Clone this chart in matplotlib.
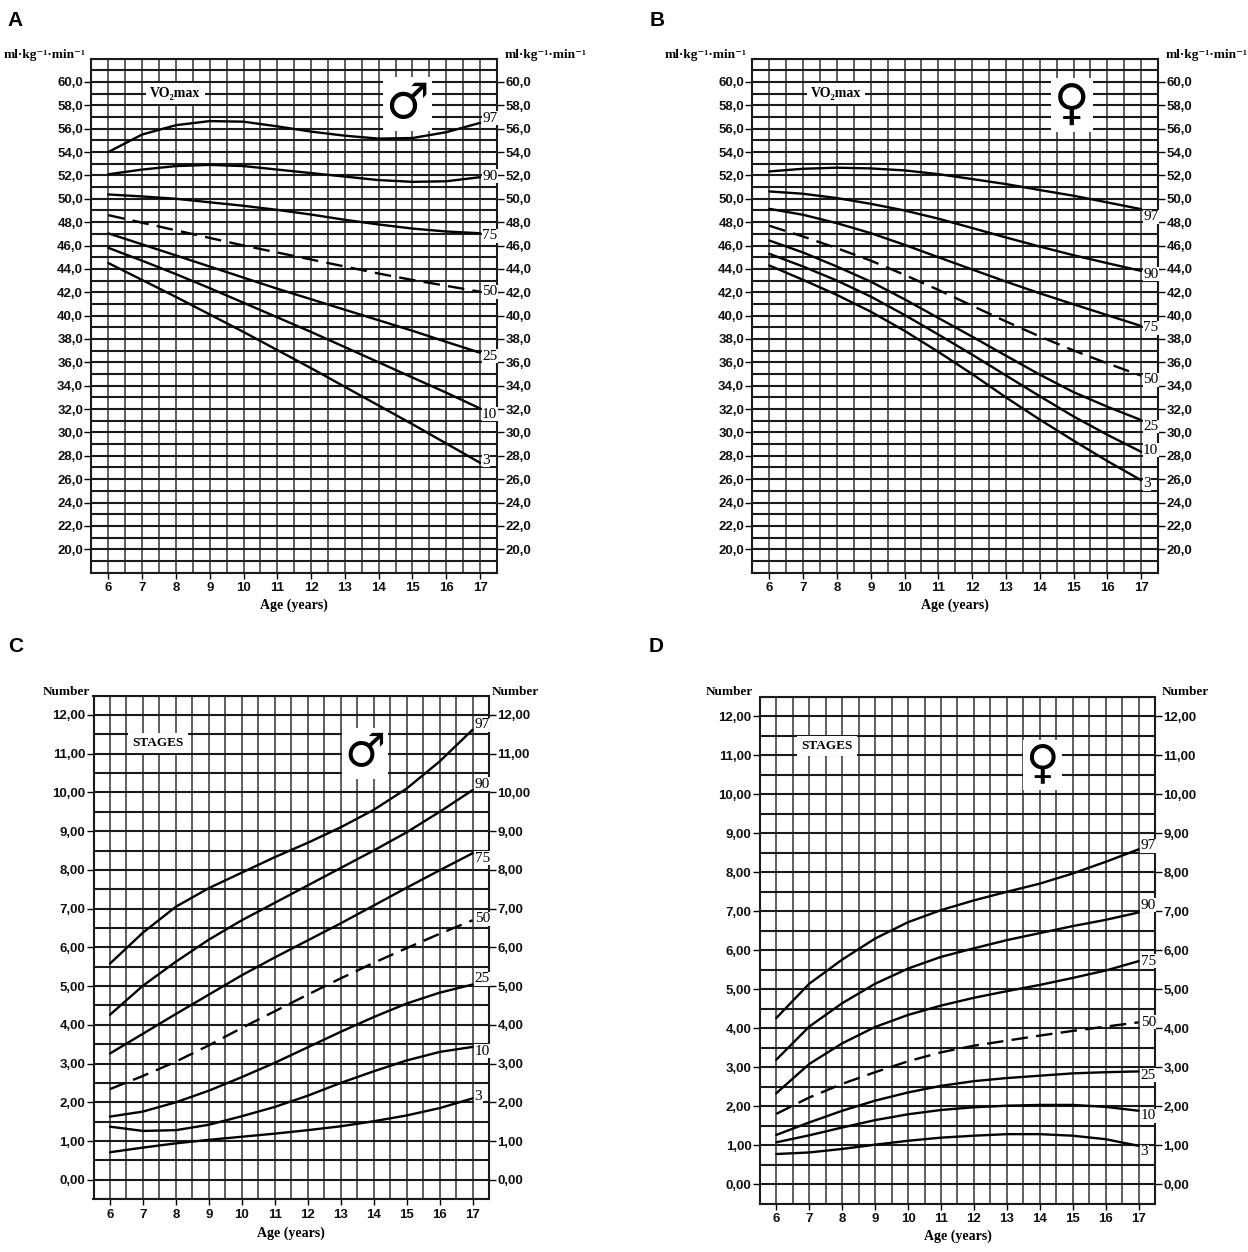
import matplotlib
matplotlib.use("Agg")
import matplotlib.pyplot as plt
import numpy as np
from matplotlib.ticker import FuncFormatter

# ---------------- data ----------------
ages = [6, 7, 8, 9, 10, 11, 12, 13, 14, 15, 16, 17]
percentiles = ["97", "90", "75", "50", "25", "10", "3"]

# A: VO2max boys (ml/kg/min)
a_p97 = [54.0, 55.5, 56.3, 56.65, 56.6, 56.2, 55.75, 55.4, 55.15, 55.2, 55.7, 56.5]
a_p90 = [52.1, 52.5, 52.8, 52.9, 52.8, 52.5, 52.2, 51.9, 51.6, 51.45, 51.5, 51.85]
a_p75 = [50.37, 50.2, 50.0, 49.7, 49.4, 49.05, 48.65, 48.2, 47.8, 47.45, 47.2, 47.05]
a_p50 = [48.6, 47.95, 47.3, 46.65, 46.0, 45.4, 44.8, 44.2, 43.6, 43.05, 42.55, 42.04]
a_p25 = [47.04, 46.1, 45.15, 44.2, 43.25, 42.3, 41.4, 40.5, 39.6, 38.7, 37.75, 36.82]
a_p10 = [45.8, 44.7, 43.55, 42.35, 41.1, 39.85, 38.6, 37.3, 36.0, 34.7, 33.4, 32.05]
a_p3 = [44.5, 43.05, 41.6, 40.1, 38.6, 37.05, 35.5, 33.9, 32.3, 30.7, 29.05, 27.4]

# B: VO2max girls
b_p97 = [52.34, 52.57, 52.66, 52.6, 52.43, 52.11, 51.69, 51.26, 50.75, 50.26, 49.69, 49.11]
b_p90 = [50.63, 50.43, 50.06, 49.57, 49.0, 48.3, 47.5, 46.69, 45.91, 45.17, 44.49, 43.83]
b_p75 = [49.14, 48.63, 47.91, 47.06, 46.06, 45.0, 43.95, 42.91, 41.91, 40.97, 40.04, 39.11]
b_p50 = [47.69, 46.77, 45.77, 44.71, 43.49, 42.2, 40.85, 39.5, 38.22, 37.02, 35.91, 34.86]
b_p25 = [46.43, 45.4, 44.2, 42.91, 41.4, 39.8, 38.2, 36.57, 34.95, 33.45, 32.2, 31.06]
b_p10 = [45.29, 44.2, 43.0, 41.63, 40.06, 38.38, 36.66, 34.88, 33.1, 31.37, 29.8, 28.34]
b_p3 = [44.29, 43.06, 41.77, 40.34, 38.7, 36.9, 35.0, 33.0, 31.1, 29.3, 27.55, 25.91]

# C: stages boys
c_p97 = [5.58, 6.38, 7.05, 7.53, 7.93, 8.33, 8.7, 9.1, 9.55, 10.1, 10.8, 11.62]
c_p90 = [4.26, 5.01, 5.63, 6.2, 6.7, 7.15, 7.6, 8.05, 8.5, 8.97, 9.5, 10.06]
c_p75 = [3.26, 3.77, 4.28, 4.78, 5.28, 5.74, 6.18, 6.62, 7.08, 7.54, 7.99, 8.43]
c_p50 = [2.34, 2.68, 3.05, 3.47, 3.92, 4.35, 4.78, 5.2, 5.6, 5.98, 6.35, 6.7]
c_p25 = [1.63, 1.76, 2.0, 2.3, 2.65, 3.02, 3.42, 3.82, 4.2, 4.55, 4.83, 5.04]
c_p10 = [1.37, 1.26, 1.28, 1.42, 1.64, 1.88, 2.17, 2.5, 2.8, 3.08, 3.3, 3.43]
c_p3 = [0.71, 0.83, 0.94, 1.03, 1.11, 1.19, 1.28, 1.38, 1.51, 1.66, 1.85, 2.1]

# D: stages girls
d_p97 = [4.26, 5.14, 5.76, 6.3, 6.72, 7.03, 7.28, 7.5, 7.71, 7.97, 8.27, 8.59]
d_p90 = [3.19, 4.04, 4.64, 5.14, 5.53, 5.83, 6.05, 6.26, 6.44, 6.62, 6.78, 6.97]
d_p75 = [2.33, 3.08, 3.61, 4.03, 4.34, 4.58, 4.78, 4.95, 5.11, 5.29, 5.48, 5.72]
d_p50 = [1.8, 2.22, 2.57, 2.87, 3.15, 3.38, 3.55, 3.68, 3.81, 3.93, 4.04, 4.15]
d_p25 = [1.26, 1.58, 1.88, 2.14, 2.35, 2.52, 2.64, 2.72, 2.78, 2.84, 2.87, 2.89]
d_p10 = [1.07, 1.25, 1.45, 1.64, 1.79, 1.9, 1.97, 2.01, 2.03, 2.03, 1.98, 1.88]
d_p3 = [0.77, 0.81, 0.9, 1.01, 1.11, 1.19, 1.24, 1.28, 1.28, 1.24, 1.15, 0.98]

# ---------------- styling ----------------
W, H = 1248, 1252
fig = plt.figure(figsize=(W / 100, H / 100), dpi=100)
fig.patch.set_facecolor("white")

SERIF = ["Liberation Serif", "DejaVu Serif"]
NARROW = ["Liberation Sans Narrow", "Liberation Sans", "DejaVu Sans"]
SANS = ["Liberation Sans", "DejaVu Sans"]
SYM = ["DejaVu Sans"]


def px_axes(x0, x1, y0, y1):
    return fig.add_axes([x0 / W, 1 - y1 / H, (x1 - x0) / W, (y1 - y0) / H])


def setup(ax, ylo, yhi, hstep, yticks, fmt, unit, unit_left_x, unit_right_x, unit_y, xlpad):
    ax.set_xlim(5.5, 17.5)
    ax.set_ylim(ylo, yhi)
    for xv in np.arange(5.5, 17.51, 0.5):
        ax.axvline(xv, color="#333333", lw=1.1, zorder=1)
    for yv in np.arange(ylo, yhi + 1e-6, hstep):
        ax.axhline(yv, color="#1a1a1a", lw=1.5, zorder=1)
    ax.set_xticks(ages)
    ax.set_yticks(yticks)
    ax.yaxis.set_major_formatter(FuncFormatter(lambda v, p: fmt.format(v).replace(".", ",")))
    ax.tick_params(axis="y", left=True, right=True, labelleft=True, labelright=True,
                   direction="out", length=5, width=1.0, pad=1)
    ax.tick_params(axis="x", direction="out", length=4, width=1.0, pad=3)
    for lab in ax.get_xticklabels() + ax.get_yticklabels():
        lab.set_fontfamily(NARROW)
        lab.set_fontweight("bold")
        lab.set_fontsize(9.5)
        lab.set_color("#111111")
    for sp in ax.spines.values():
        sp.set_color("#1a1a1a")
        sp.set_linewidth(1.5)
    ax.set_xlabel("Age (years)", fontfamily=SERIF, fontweight="bold", fontsize=10,
                  labelpad=xlpad)
    fig.text(unit_left_x / W, 1 - unit_y / H, unit, ha="right", va="center",
             fontfamily=SERIF, fontweight="bold", fontsize=9.5)
    fig.text(unit_right_x / W, 1 - unit_y / H, unit, ha="left", va="center",
             fontfamily=SERIF, fontweight="bold", fontsize=9.5)


def draw_curves(ax, series, offsets):
    for name, vals, dy in zip(percentiles, series, offsets):
        ls = (0, (7, 3.5)) if name == "50" else "-"
        ax.plot(ages, vals, color="black", lw=1.7, ls=ls, zorder=3,
                solid_joinstyle="round", solid_capstyle="round")
        ax.text(ages[-1] + 0.06, vals[-1] + dy, name, ha="left", va="center",
                fontfamily=SERIF, fontsize=11, zorder=4,
                bbox=dict(facecolor="white", edgecolor="none", pad=0.3))


unit_vo2 = "ml·kg⁻¹·min⁻¹"

# ---- A ----
axA = px_axes(91.4, 497, 58.6, 572.6)
setup(axA, 18, 62, 1, np.arange(20, 61, 2), "{:.1f}", unit_vo2, 86, 505, 55, 3)
draw_curves(axA, [a_p97, a_p90, a_p75, a_p50, a_p25, a_p10, a_p3],
            [0.4, 0.1, -0.2, 0.0, -0.3, -0.5, 0.2])
axA.text(7.98, 59.0, "VO₂max", ha="center", va="center", fontfamily=SERIF,
         fontweight="bold", fontsize=10, zorder=4,
         bbox=dict(facecolor="white", edgecolor="none", pad=3))
axA.text(14.85, 58.1, "♂", ha="center", va="center", fontfamily=SYM, fontsize=35,
         fontweight="bold", zorder=4, bbox=dict(facecolor="white", edgecolor="none", pad=2))

# ---- B ----
axB = px_axes(752.4, 1158, 58.6, 572.6)
setup(axB, 18, 62, 1, np.arange(20, 61, 2), "{:.1f}", unit_vo2, 747, 1166, 55, 3)
draw_curves(axB, [b_p97, b_p90, b_p75, b_p50, b_p25, b_p10, b_p3],
            [-0.65, -0.3, -0.15, -0.35, -0.55, 0.15, -0.3])
axB.text(7.97, 59.0, "VO₂max", ha="center", va="center", fontfamily=SERIF,
         fontweight="bold", fontsize=10, zorder=4,
         bbox=dict(facecolor="white", edgecolor="none", pad=3))
axB.text(14.96, 58.0, "♀", ha="center", va="center", fontfamily=SYM, fontsize=35,
         fontweight="bold", zorder=4, bbox=dict(facecolor="white", edgecolor="none", pad=2))

# ---- C ----
axC = px_axes(93.5, 489.1, 695.6, 1199.1)
setup(axC, -0.5, 12.5, 0.5, np.arange(0, 13, 1), "{:.2f}", "Number", 90, 492, 692, 4)
draw_curves(axC, [c_p97, c_p90, c_p75, c_p50, c_p25, c_p10, c_p3],
            [0.13, 0.15, -0.13, 0.04, 0.15, -0.11, 0.06])
axC.text(7.46, 11.27, "STAGES", ha="center", va="center", fontfamily=SERIF,
         fontweight="bold", fontsize=9.5, zorder=4,
         bbox=dict(facecolor="white", edgecolor="none", pad=3))
axC.text(13.73, 11.0, "♂", ha="center", va="center", fontfamily=SYM, fontsize=33,
         fontweight="bold", zorder=4, bbox=dict(facecolor="white", edgecolor="none", pad=2))

# ---- D ----
axD = px_axes(759.8, 1155.1, 697, 1203.5)
setup(axD, -0.5, 12.5, 0.5, np.arange(0, 13, 1), "{:.2f}", "Number", 753, 1162, 692, 3)
draw_curves(axD, [d_p97, d_p90, d_p75, d_p50, d_p25, d_p10, d_p3],
            [0.09, 0.19, 0.0, 0.0, -0.1, -0.13, -0.15])
axD.text(7.55, 11.24, "STAGES", ha="center", va="center", fontfamily=SERIF,
         fontweight="bold", fontsize=9.5, zorder=4,
         bbox=dict(facecolor="white", edgecolor="none", pad=3))
axD.text(14.07, 10.75, "♀", ha="center", va="center", fontfamily=SYM, fontsize=33,
         fontweight="bold", zorder=4, bbox=dict(facecolor="white", edgecolor="none", pad=2))

# panel letters
for letter, x, y in [("A", 15, 20), ("B", 657, 20), ("C", 16, 646), ("D", 656, 646)]:
    fig.text(x / W, 1 - y / H, letter, ha="center", va="center",
             fontfamily=SANS, fontweight="bold", fontsize=15)

fig.savefig("out.png", dpi=100, facecolor="white")
